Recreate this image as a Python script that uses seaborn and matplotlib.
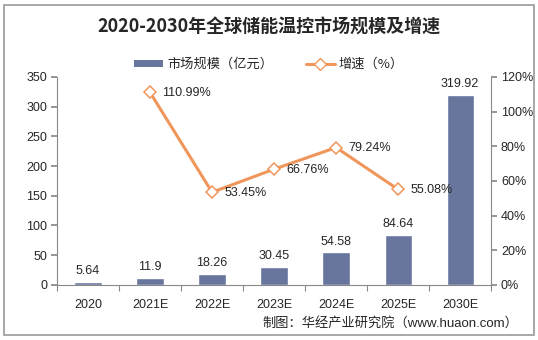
import matplotlib
matplotlib.use("Agg")
import matplotlib.pyplot as plt
import seaborn as sns
import numpy as np
import pandas as pd
from matplotlib.ticker import FixedLocator, PercentFormatter
from matplotlib.lines import Line2D
from matplotlib.patches import Patch, Rectangle

categories = ["2020", "2021E", "2022E", "2023E", "2024E", "2025E", "2030E"]
market_size = [5.64, 11.9, 18.26, 30.45, 54.58, 84.64, 319.92]
growth = [np.nan, 110.99, 53.45, 66.76, 79.24, 55.08, np.nan]
growth_labels = ["", "110.99%", "53.45%", "66.76%", "79.24%", "55.08%", ""]

sns.set_theme(style="white")
plt.rcParams['font.family'] = ['Liberation Sans', 'Noto Sans CJK SC', 'DejaVu Sans']

BAR = "#68759D"
LINE = "#F0965A"
GREY = "#898989"
TXT = "#262626"

df = pd.DataFrame({"cat": categories, "size": market_size, "growth": growth})

fig = plt.figure(figsize=(5.38, 3.40), dpi=100)
ax = fig.add_axes([0.106, 0.162, 0.807, 0.612])
sns.barplot(data=df, x="cat", y="size", color=BAR, width=0.44, saturation=1, ax=ax)
ax.set_ylim(0, 350)
ax.set_yticks(np.arange(0, 351, 50))
ax.set_xlim(-0.5, 6.5)
ax.set_xlabel("")
ax.set_ylabel("")
for i, v in enumerate(market_size):
    ax.text(i, v + 8, f"{v:g}", ha="center", va="bottom", fontsize=9, color=TXT)

ax2 = ax.twinx()
x = np.arange(len(categories))
sns.lineplot(x=x, y=df["growth"], color=LINE, lw=2.2, marker="D", markersize=6,
             markerfacecolor="white", markeredgecolor=LINE, markeredgewidth=1.1, ax=ax2)
ax2.set_ylim(0, 120)
ax2.set_yticks(np.arange(0, 121, 20))
ax2.yaxis.set_major_formatter(PercentFormatter(decimals=0))
ax2.set_ylabel("")
for i, (v, lab) in enumerate(zip(growth, growth_labels)):
    if lab:
        ax2.text(i + 0.2, v - 0.5, lab, ha="left", va="center", fontsize=9, color=TXT)

for a in (ax, ax2):
    for s in a.spines.values():
        s.set_visible(False)
ax.spines["left"].set_visible(True)
ax.spines["bottom"].set_visible(True)
ax2.spines["right"].set_visible(True)
for s in (ax.spines["left"], ax.spines["bottom"], ax2.spines["right"]):
    s.set_color(GREY)
    s.set_linewidth(0.8)

ax.tick_params(axis="y", left=True, length=4, color=GREY, labelsize=9, labelcolor=TXT, pad=3)
ax2.tick_params(axis="y", right=True, length=4, color=GREY, labelsize=9, labelcolor=TXT, pad=3)
ax.tick_params(axis="x", bottom=False, labelsize=9, labelcolor=TXT, pad=4)
ax.xaxis.set_minor_locator(FixedLocator(np.arange(-0.5, 7, 1)))
ax.tick_params(axis="x", which="minor", bottom=True, length=4, color=GREY, width=0.8)
ax.grid(False)
ax2.grid(False)

fig.text(0.5, 0.92, "2020-2030年全球储能温控市场规模及增速", ha="center", va="center",
         fontsize=13, fontweight="bold", color=TXT,
         family=['Noto Sans CJK SC', 'DejaVu Sans'])

handles = [Patch(facecolor=BAR, edgecolor="none"),
           Line2D([0], [0], color=LINE, lw=2.2, marker="D", markersize=6,
                  markerfacecolor="white", markeredgecolor=LINE)]
leg = fig.legend(handles, ["市场规模（亿元）", "增速（%）"], loc="center",
                 bbox_to_anchor=(0.5, 0.81), ncol=2, frameon=False,
                 prop={"family": ['Noto Sans CJK SC', 'DejaVu Sans'], "size": 9.5},
                 handlelength=2.2, handleheight=0.5, columnspacing=2.5, handletextpad=0.3)
for t in leg.get_texts():
    t.set_color(TXT)

fig.text(0.963, 0.05, "制图：华经产业研究院（www.huaon.com）", ha="right", va="center",
         fontsize=9.5, color=TXT, family=['Liberation Sans', 'Noto Sans CJK SC', 'DejaVu Sans'])

fig.patches.append(Rectangle((0.008, 0.015), 0.984, 0.97, transform=fig.transFigure,
                             fill=False, edgecolor="#9a9a9a", linewidth=1.2))

fig.savefig("out.png", dpi=100, facecolor="white")
